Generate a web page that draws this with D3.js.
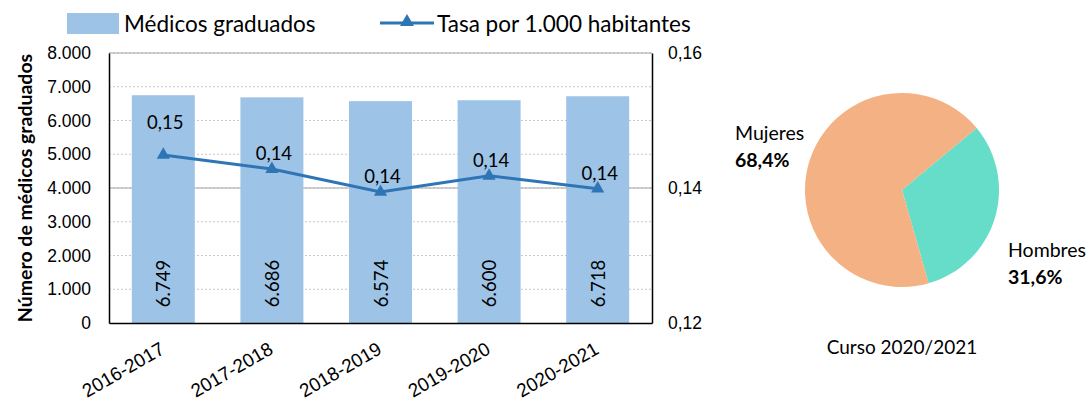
<!DOCTYPE html>
<html>
<head>
<meta charset="utf-8">
<script src="https://cdn.jsdelivr.net/npm/d3@7"></script>
<style>
  body { margin: 0; background: #fff; }
  svg { font-family: Lato, "Open Sans", sans-serif; }
  .tick text { fill: #000; }
</style>
</head>
<body>
<svg id="chart" width="1088" height="401"></svg>
<script>
// Datos
const cursos = ['2016-2017', '2017-2018', '2018-2019', '2019-2020', '2020-2021'];
const medicos = [6749, 6686, 6574, 6600, 6718];
const tasa = [0.1449, 0.1428, 0.1394, 0.1418, 0.1399];
const tasaEtiquetas = ['0,15', '0,14', '0,14', '0,14', '0,14'];
const yTicks = [0, 1000, 2000, 3000, 4000, 5000, 6000, 7000, 8000];
const y2Ticks = [0.12, 0.14, 0.16];
const sexos = ['Hombres', 'Mujeres'];
const porcentajes = [31.6, 68.4];

const svg = d3.select('#chart');
const locale = d3.formatLocale({ decimal: ',', thousands: '.', grouping: [3] });
const fmtMil = locale.format(',d');
const fmtDec = locale.format('.2f');
const fmtPct = locale.format('.1f');

const plotLeft = 109, plotRight = 652, plotTop = 53, plotBottom = 323;

const x = d3.scaleBand().domain(cursos).range([plotLeft, plotRight]).paddingInner(0.42).paddingOuter(0.21);
const y = d3.scaleLinear().domain([0, 8000]).range([plotBottom, plotTop]);
const y2 = d3.scaleLinear().domain([0.12, 0.16]).range([plotBottom, plotTop]);

// gridlines
svg.append('g')
  .selectAll('line')
  .data(yTicks.filter(d => d > 0))
  .join('line')
  .attr('x1', plotLeft).attr('x2', plotRight)
  .attr('y1', d => y(d)).attr('y2', d => y(d))
  .attr('stroke', '#c8c8c8')
  .attr('stroke-dasharray', '2,2');

svg.append('g')
  .selectAll('line')
  .data(y2Ticks.filter(d => d > 0.12))
  .join('line')
  .attr('x1', plotLeft).attr('x2', plotRight)
  .attr('y1', d => y2(d)).attr('y2', d => y2(d))
  .attr('stroke', '#a6a6a6');

// barras
svg.append('g')
  .selectAll('rect')
  .data(medicos)
  .join('rect')
  .attr('x', (d, i) => x(cursos[i]))
  .attr('y', d => y(d))
  .attr('width', x.bandwidth())
  .attr('height', d => plotBottom - y(d))
  .attr('fill', '#9dc3e6');

svg.append('g')
  .selectAll('text')
  .data(medicos)
  .join('text')
  .attr('transform', (d, i) => `translate(${x(cursos[i]) + x.bandwidth() / 2 + 7}, 283.5) rotate(-90)`)
  .attr('text-anchor', 'middle')
  .attr('font-size', 18.5)
  .text(d => fmtMil(d));

// ejes
const yAxis = svg.append('g')
  .attr('transform', `translate(${plotLeft},0)`)
  .call(d3.axisLeft(y).tickValues(yTicks).tickSize(0).tickPadding(18).tickFormat(fmtMil));
yAxis.select('.domain').attr('stroke', '#000').attr('stroke-width', 1.5);
yAxis.selectAll('text').attr('font-size', 17.5);

const y2Axis = svg.append('g')
  .attr('transform', `translate(${plotRight},0)`)
  .call(d3.axisRight(y2).tickValues(y2Ticks).tickSize(0).tickPadding(16).tickFormat(fmtDec));
y2Axis.select('.domain').attr('stroke', '#000').attr('stroke-width', 1.5);
y2Axis.selectAll('text').attr('font-size', 17.5);

const xAxis = svg.append('g')
  .attr('transform', `translate(0,${plotBottom})`)
  .call(d3.axisBottom(x).tickSize(0).tickFormat(d => d));
xAxis.select('.domain').attr('stroke', '#000').attr('stroke-width', 1.5);
xAxis.selectAll('text')
  .attr('font-size', 19)
  .attr('text-anchor', 'end')
  .attr('dy', 0)
  .attr('transform', 'translate(1,27) rotate(-30)');

svg.append('text')
  .attr('transform', `translate(32, ${(plotTop + plotBottom) / 2}) rotate(-90)`)
  .attr('text-anchor', 'middle')
  .attr('font-size', 19.5)
  .attr('font-weight', 'bold')
  .text('Número de médicos graduados');

// linea tasa
const cx = (d, i) => x(cursos[i]) + x.bandwidth() / 2;
svg.append('path')
  .datum(tasa)
  .attr('fill', 'none')
  .attr('stroke', '#2e75b6')
  .attr('stroke-width', 3)
  .attr('d', d3.line().x(cx).y(d => y2(d)));

svg.append('g')
  .selectAll('path')
  .data(tasa)
  .join('path')
  .attr('transform', (d, i) => `translate(${cx(d, i)},${y2(d)})`)
  .attr('d', d3.symbol(d3.symbolTriangle, 75))
  .attr('fill', '#2e75b6');

svg.append('g')
  .selectAll('text')
  .data(tasa)
  .join('text')
  .attr('x', (d, i) => cx(d, i) + 2)
  .attr('y', (d, i) => y2(d) - (i === 0 ? 26 : 9))
  .attr('text-anchor', 'middle')
  .attr('font-size', 18.5)
  .text((d, i) => tasaEtiquetas[i]);

// leyenda
const leg = svg.append('g');
leg.append('rect').attr('x', 67).attr('y', 13).attr('width', 52).attr('height', 21).attr('fill', '#9dc3e6');
leg.append('text').attr('x', 124).attr('y', 32).attr('font-size', 22.5).text('Médicos graduados');
leg.append('line').attr('x1', 380).attr('x2', 434).attr('y1', 23).attr('y2', 23)
  .attr('stroke', '#2e75b6').attr('stroke-width', 3);
leg.append('path').attr('transform', 'translate(407,22)').attr('d', d3.symbol(d3.symbolTriangle, 85)).attr('fill', '#2e75b6');
leg.append('text').attr('x', 437).attr('y', 32).attr('font-size', 22.5).text('Tasa por 1.000 habitantes');

// tarta
const pcx = 902, pcy = 190, r = 97;
const start = 50.3 * Math.PI / 180;
const pie = d3.pie().sort(null).startAngle(start).endAngle(start + 2 * Math.PI);
const arcs = pie(porcentajes);
const colores = ['#66ddc9', '#f4b183'];
const pieG = svg.append('g').attr('transform', `translate(${pcx},${pcy})`);
pieG.selectAll('path')
  .data(arcs)
  .join('path')
  .attr('d', d3.arc().innerRadius(0).outerRadius(r))
  .attr('fill', (d, i) => colores[i]);

// Mujeres
svg.append('text').attr('x', 735).attr('y', 140).attr('font-size', 19.5).text(sexos[1]);
svg.append('text').attr('x', 735).attr('y', 167).attr('font-size', 19.5).attr('font-weight', 'bold')
  .text(fmtPct(porcentajes[1]) + '%');
// Hombres
svg.append('text').attr('x', 1008).attr('y', 257).attr('font-size', 19.5).text(sexos[0]);
svg.append('text').attr('x', 1008).attr('y', 284).attr('font-size', 19.5).attr('font-weight', 'bold')
  .text(fmtPct(porcentajes[0]) + '%');

svg.append('text').attr('x', 902).attr('y', 354).attr('text-anchor', 'middle').attr('font-size', 19)
  .text('Curso 2020/2021');
</script>
</body>
</html>
